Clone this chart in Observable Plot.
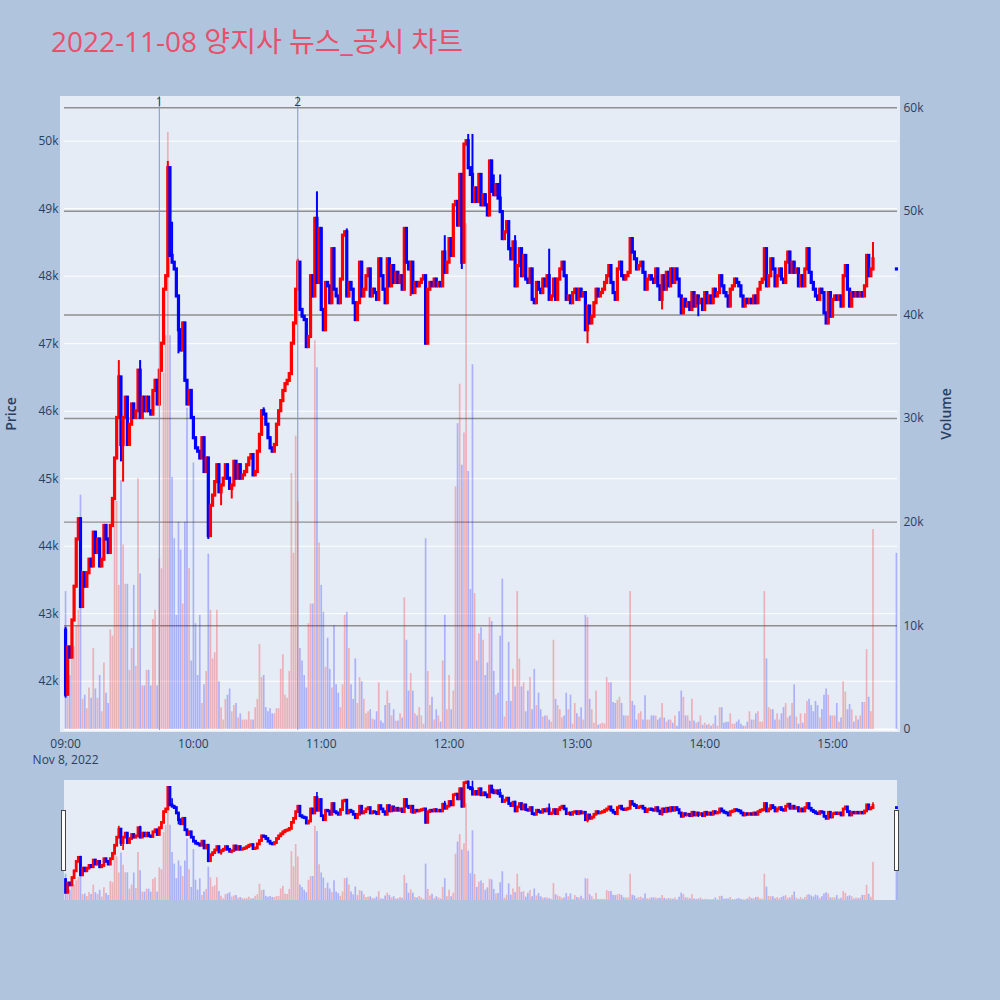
<!DOCTYPE html>
<html><head><meta charset="utf-8">
<script src="https://cdn.jsdelivr.net/npm/d3@7"></script>
<script src="https://cdn.jsdelivr.net/npm/@observablehq/plot@0.6"></script>
<style>
html,body{margin:0;padding:0;background:#B0C4DE;}
#wrap{position:relative;width:1000px;height:1000px;background:#B0C4DE;overflow:hidden;font-family:"Open Sans","Noto Sans CJK KR",sans-serif;}
#wrap svg{position:absolute;left:0;top:0;}
.abs{position:absolute;}
</style></head>
<body><div id="wrap"></div>
<script>
// ---------------- data ----------------
const titleText = "2022-11-08 양지사 뉴스_공시 차트";
const dateLabel = "Nov 8, 2022";
const firstOpen = 42750;
// 1-minute closes from 09:00 to 15:19
const closes = [
41800,42500,42350,42900,43400,44100,44400,43100,43600,43400,
43600,43800,43700,44200,43900,44100,43700,43800,44300,44100,
43900,44300,44700,45300,45900,46500,45500,45900,46200,45500,
45800,46100,45900,46000,46600,45900,46200,46000,46200,46000,
45950,46300,46450,46100,46600,47000,47800,48000,49600,48300,
48200,48100,47700,47200,46900,47300,46450,46100,46300,45900,
45600,45450,45400,45300,45600,45100,45300,44150,44600,44750,
44950,45200,44800,44900,45000,45200,45000,44850,44900,45250,
45000,45200,45000,45050,45100,45200,45300,45350,45050,45100,
45400,45650,46000,45950,45800,45600,45450,45400,45500,45800,
46000,46150,46300,46400,46450,46550,47000,47300,47800,48200,
47500,47400,47350,46950,47100,48000,47700,48850,47900,48700,
47500,47200,47900,47850,47600,48400,47800,47700,47600,47950,
48600,48650,47700,47900,47800,47600,47350,47600,48200,47700,
47800,48000,48100,47700,47800,47750,47650,48250,48000,47800,
47600,48250,47850,48150,47900,48050,47900,48000,47800,48700,
48200,48100,48200,47750,47900,47850,47900,47950,48000,47000,
47800,47900,47850,47950,47850,47900,47850,48350,48050,48200,
48550,48300,49050,49100,48750,49500,48200,49950,50000,49600,
49500,49100,49300,49100,49500,49050,49200,49050,48900,49700,
49250,49200,49350,49150,48950,48550,48650,48800,48400,48250,
48500,47850,48150,48400,48000,48300,47950,47900,48100,47650,
47600,47900,47800,47750,47950,47850,48000,47650,47700,47950,
47650,47950,48100,48200,48000,47650,47700,47600,47750,47800,
47650,47800,47700,47750,47200,47550,47300,47400,47600,47800,
47700,47750,47800,47900,48000,48150,47900,47750,47650,48100,
48200,48000,47950,48000,48050,48550,48350,48250,48100,48150,
48200,48050,47800,47950,48000,47950,47900,48100,47850,47650,
48000,47800,48050,47850,48100,47900,48100,47950,47700,47450,
47650,47550,47600,47500,47750,47550,47700,47600,47650,47500,
47750,47600,47700,47600,47800,47700,47750,48000,47850,47750,
47700,47550,47800,47850,47950,47900,47850,47700,47550,47650,
47600,47650,47600,47700,47600,47800,47900,47950,48400,47850,
48000,48250,48100,47850,48000,48100,47950,47900,48200,48350,
48050,48200,48050,48100,47850,48000,47850,48100,48400,48050,
47900,47800,47700,47650,47800,47750,47450,47300,47750,47400,
47650,47700,47650,47700,47550,48000,48150,47800,47550,47750,
47700,47750,47700,47750,47700,47850,48300,48000,48100,48250
];
const volumes = [
13300,3700,5200,6800,8000,10000,11500,22600,2900,3300,
2000,4000,3000,7800,3900,3000,5200,1700,6400,3500,
2500,9600,9000,24700,22000,13900,24000,17800,14000,14000,
5700,7800,13900,6100,24200,15000,4200,4200,5700,5700,
4200,10600,11500,4200,16500,15500,34400,38000,57600,38000,
24300,18400,11000,20000,17300,12100,20000,31000,15500,6600,
25700,10200,5200,11000,2500,4300,5600,16900,11500,6800,
7400,11500,4600,2100,900,2900,3300,3900,1700,2300,
2500,1100,1500,900,900,900,1700,900,900,2100,
2900,8200,5000,5200,2100,1700,2000,1500,1500,2000,
2000,5800,7200,3300,3000,5600,24700,17000,28300,22000,
7800,6600,5200,4000,10200,12100,12100,37500,34900,18000,
13900,11300,6000,8800,5800,4000,10000,4300,3500,2100,
4300,11000,11300,7800,4300,2900,6800,2500,5000,4600,
2900,1500,1700,1900,1000,900,1700,4500,800,600,
2300,3700,2500,1300,1900,800,800,1500,1100,12700,
8600,3700,5400,3700,1500,1300,2100,1300,500,18400,
5600,2300,3100,900,1900,1300,700,6600,11000,1900,
5200,1900,3700,23400,29500,33300,25500,28600,48800,24900,
13500,35200,13100,6600,9200,9800,8600,5200,6400,10800,
10400,5600,3300,3500,9000,14500,1200,2700,8400,2700,
5800,4100,13300,6800,4100,4500,1700,3700,5000,1900,
5800,2300,3500,1900,1200,1300,1300,900,700,8600,
2900,2300,1900,1100,1300,3500,1900,3300,500,2500,
1500,1200,2100,900,11000,10800,2900,1900,600,3700,
400,500,600,500,5000,4500,4500,2600,2500,2800,
3100,2500,1300,1300,1300,13300,2700,2300,900,1500,
1700,900,3250,900,900,1300,1300,1300,900,1100,
2500,1100,700,900,900,600,1300,300,1700,3700,
3100,1300,1300,800,2900,800,600,700,1300,400,
600,400,500,300,500,1300,300,2100,2100,600,
700,700,1500,500,500,700,900,500,300,300,
700,1700,900,900,1500,1700,700,700,13300,6800,
2100,1900,1900,900,1500,900,1500,2100,2500,1100,
1300,2500,4300,1200,500,1500,600,1500,2700,2900,
2300,1700,2700,2300,1100,1900,3300,3900,3300,1300,
1300,1300,2500,700,1100,4600,3600,1900,2400,1900,
700,1300,900,1300,2600,2600,7700,3100,1700,19300
];
// wick extremes: [minute index, high, low]
const wicks = [[0,42800,41750],[25,46750,null],[26,null,45250],[27,null,44950],[35,46750,null],
[48,49700,null],[50,48800,null],[53,null,46850],[67,null,44100],[73,null,44600],[78,null,44700],
[93,46050,null],[109,48250,null],[118,49250,null],[132,48700,null],[162,null,47700],[178,48600,null],
[186,49500,48100],[189,50100,null],[191,50100,null],[201,49500,null],[204,49500,null],[211,48600,null],
[227,48400,null],[245,null,47000],[280,null,47500],[297,null,47400],[379,48500,null]];
// closing auction 15:30
const auctionTime = "15:30", auctionPrice = 48100, auctionVolume = 17000;
const priceTicks = [42000,43000,44000,45000,46000,47000,48000,49000,50000];
const volumeTicks = [0,10000,20000,30000,40000,50000,60000];
const hourTicks = ["09:00","10:00","11:00","12:00","13:00","14:00","15:00"];
const markerLabels = ["1","2"];
const markerTimes = ["09:44","10:49"];

// ---------------- build ----------------
const base = Date.UTC(2022,10,8,9,0);
const hm = s => { const [h,m] = s.split(":").map(Number); return (h-9)*60+m; };
const t = m => new Date(base + m*60000);
const rows = [];
let prev = firstOpen;
closes.forEach((c,i) => { rows.push({time:t(i), open:prev, close:c, volume:volumes[i]}); prev = c; });
rows.push({time:t(hm(auctionTime)), open:auctionPrice, close:auctionPrice, volume:auctionVolume});
const wmap = new Map(wicks.map(w => [w[0], w]));
rows.forEach((r,i) => {
  const w = wmap.get(i);
  r.high = Math.max(r.open, r.close, w && w[1] != null ? w[1] : -Infinity);
  r.low = Math.min(r.open, r.close, w && w[2] != null ? w[2] : Infinity);
  r.up = r.close > r.open;
});
const markers = markerTimes.map((s,i) => ({time:t(hm(s)), label:markerLabels[i]}));
const hourDates = hourTicks.map(s => t(hm(s)));

const UP = "#FF0000", DOWN = "#0000FF";
const VUP = "rgba(255,0,0,0.25)", VDOWN = "rgba(0,0,255,0.25)";
const TXT = "#2a3f5f";
const xScale = {type:"utc", domain:[t(-0.5), t(390.5)], axis:null};
const common = {width:1000, height:1000, marginLeft:64, marginRight:103,
  color:{type:"identity"},
  style:{background:"transparent", fontFamily:'"Open Sans","Noto Sans CJK KR",sans-serif', fontSize:"12px", color:TXT, overflow:"visible"}};
const mainM = {marginTop:96, marginBottom:270};
const slideM = {marginTop:780, marginBottom:100};
const priceDomain = [41270, 50662];
const volDomain = [-106, 61081];

const wrap = document.getElementById("wrap");
function div(css, text){ const d = document.createElement("div"); d.className="abs"; d.style.cssText = css; if(text) d.textContent = text; wrap.appendChild(d); return d; }

// backgrounds
div("left:60px;top:96px;width:840px;height:636px;background:#E5ECF6;");
div("left:64px;top:780px;width:833px;height:120px;background:#E5ECF6;");

// layer 1: price grid + axes
wrap.appendChild(Plot.plot({...common, ...mainM, x:xScale, y:{domain:priceDomain, axis:null},
  marks:[
    Plot.gridY(priceTicks, {stroke:"#ffffff", strokeOpacity:1, strokeWidth:1}),
    Plot.axisY(priceTicks, {anchor:"left", tickSize:0, tickPadding:6, tickFormat:d => d/1000 + "k", label:null, fontSize:12}),
    Plot.axisX(hourDates, {anchor:"bottom", tickSize:0, tickPadding:6, label:null, fontSize:12, lineHeight:1.35,
      tickFormat:d => d3.utcFormat("%H:%M")(d) + (+d === +hourDates[0] ? "\n" + dateLabel : "")})
  ]}));

// layer 2: volume
wrap.appendChild(Plot.plot({...common, ...mainM, x:xScale, y:{domain:volDomain, axis:null},
  marks:[
    Plot.gridY(volumeTicks.filter(v => v > 0), {stroke:"#8f8f8f", strokeOpacity:1, strokeWidth:1.4}),
    Plot.ruleY([0], {stroke:"#ffffff", strokeWidth:2}),
    Plot.ruleX(rows, {x:"time", y1:0, y2:"volume", stroke:d => d.up ? VUP : VDOWN, strokeWidth:1.7}),
    Plot.axisY(volumeTicks, {anchor:"right", tickSize:0, tickPadding:6, label:null, fontSize:12,
      tickFormat:d => d === 0 ? "0" : d/1000 + "k"})
  ]}));

// layer 3: candles + markers
wrap.appendChild(Plot.plot({...common, ...mainM, x:xScale, y:{domain:priceDomain, axis:null},
  marks:[
    Plot.ruleX(rows, {x:"time", y1:"low", y2:"high", stroke:d => d.up ? UP : DOWN, strokeWidth:2}),
    Plot.ruleX(rows, {x:"time", y1:"open", y2:"close", stroke:d => d.up ? UP : DOWN, strokeWidth:3.2, strokeLinecap:"square"}),
    Plot.ruleX(markers, {x:"time", stroke:"#8494c8", strokeWidth:1}),
    Plot.text(markers, {x:"time", text:"label", frameAnchor:"top", dy:1, fill:TXT, fontSize:12})
  ]}));

// range slider
wrap.appendChild(Plot.plot({...common, ...slideM, x:xScale, y:{domain:[0, 60600], axis:null},
  marks:[
    Plot.ruleX(rows, {x:"time", y1:0, y2:"volume", stroke:d => d.up ? VUP : VDOWN, strokeWidth:1.7})
  ]}));
wrap.appendChild(Plot.plot({...common, ...slideM, x:xScale, y:{domain:[41230, 50150], axis:null},
  marks:[
    Plot.ruleX(rows, {x:"time", y1:"low", y2:"high", stroke:d => d.up ? UP : DOWN, strokeWidth:1.6}),
    Plot.ruleX(rows, {x:"time", y1:"open", y2:"close", stroke:d => d.up ? UP : DOWN, strokeWidth:2.8, strokeLinecap:"square"})
  ]}));
div("left:61px;top:810px;width:5px;height:61px;background:#fff;border:1px solid #444;box-sizing:border-box;");
div("left:894px;top:810px;width:5px;height:61px;background:#fff;border:1px solid #444;box-sizing:border-box;");

// titles
div("left:51px;top:24px;font-size:28px;line-height:34px;color:#E8506A;white-space:nowrap;", titleText);
div("left:10px;top:414px;font-size:14px;font-weight:600;color:"+TXT+";transform:translate(-50%,-50%) rotate(-90deg);white-space:nowrap;", "Price");
div("left:945px;top:414px;font-size:14px;font-weight:600;color:"+TXT+";transform:translate(-50%,-50%) rotate(-90deg);white-space:nowrap;", "Volume");
</script>
</body></html>
